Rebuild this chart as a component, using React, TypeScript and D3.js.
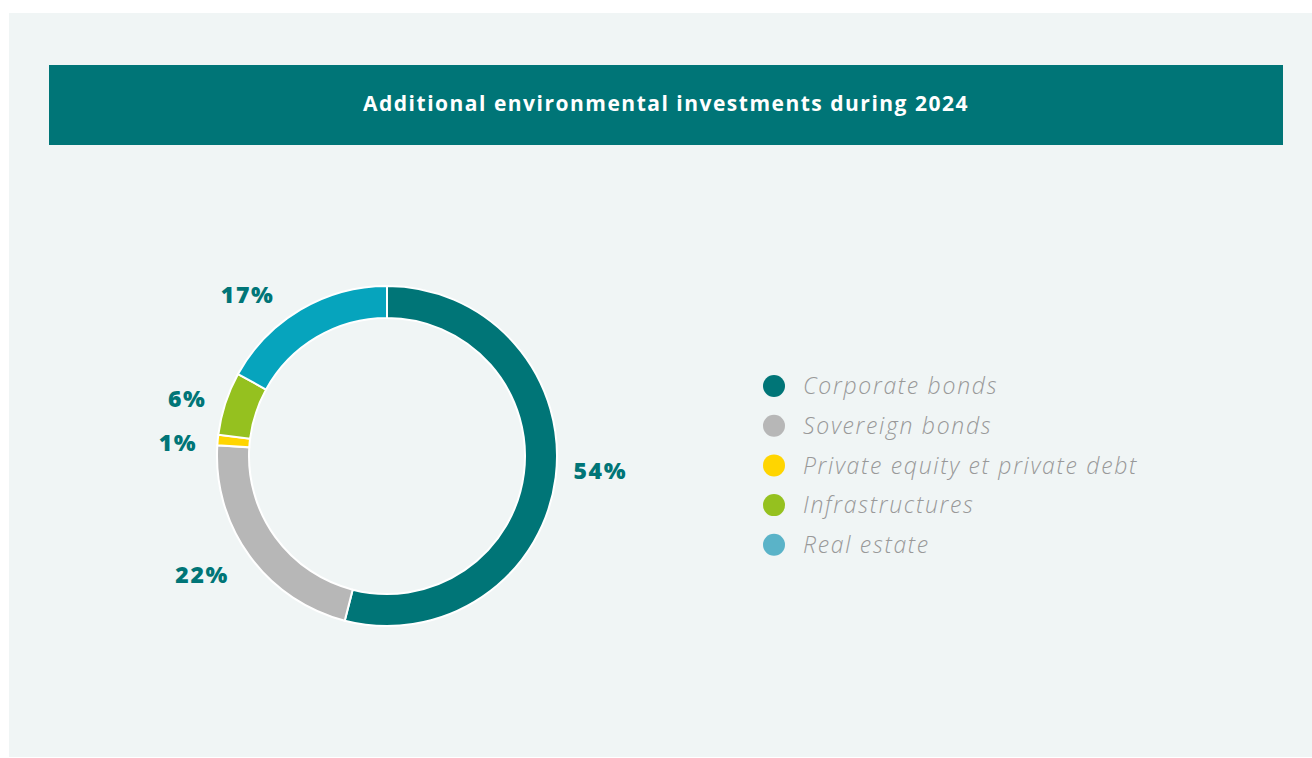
import React from "react";
import * as d3 from "d3";

const categories = ["Corporate bonds", "Sovereign bonds", "Private equity et private debt", "Infrastructures", "Real estate"];
const values = [54, 22, 1, 6, 17];
const sliceColors = ["#007577", "#b7b7b7", "#ffd500", "#95c11f", "#06a4bd"];
const legendColors = ["#007577", "#b7b7b7", "#ffd500", "#95c11f", "#5ab3c8"];
const labelText = ["54%", "22%", "1%", "6%", "17%"];
const title = "Additional environmental investments during 2024";

const W = 1312, H = 758;
const cx = 387, cy = 456, rOuter = 170, rInner = 138;

export default function App() {
  const pie = d3.pie<number>().sort(null).value((d) => d)(values);
  const arc = d3.arc<d3.PieArcDatum<number>>().innerRadius(rInner).outerRadius(rOuter);
  const labelR = [215, 210, 210, 210, 205];
  const labelOffsets: [number, number][] = [[0, -12], [-15, -5], [0, 6], [0, 8], [-35, 15]];
  return (
    <svg width={W} height={H} style={{ position: "absolute", left: 0, top: 0 }}>
      <rect x={0} y={0} width={W} height={H} fill="#ffffff" />
      <rect x={9} y={13} width={W - 9} height={744} fill="#f0f5f5" />
      <rect x={49} y={65} width={1234} height={80} fill="#007577" />
      <text x={666} y={111} textAnchor="middle" fill="#ffffff" fontFamily="'Open Sans', sans-serif" fontWeight={700} fontSize={21} letterSpacing={1.5}>{title}</text>
      <g transform={`translate(${cx},${cy})`}>
        {pie.map((p, i) => (
          <path key={i} d={arc(p) || ""} fill={sliceColors[i]} stroke="#ffffff" strokeWidth={2} />
        ))}
        {pie.map((p, i) => {
          const a = (p.startAngle + p.endAngle) / 2;
          const r = labelR[i];
          const x = Math.sin(a) * r + labelOffsets[i][0];
          const y = -Math.cos(a) * r + labelOffsets[i][1];
          return (
            <text key={i} x={x} y={y} dy="0.36em" textAnchor="middle" fill="#007577" fontFamily="'Open Sans', sans-serif" fontWeight={800} fontSize={23} letterSpacing={1.6}>{labelText[i]}</text>
          );
        })}
      </g>
      {categories.map((c, i) => (
        <g key={c} transform={`translate(774,${386 + i * 39.7})`}>
          <circle r={11} fill={legendColors[i]} />
          <text x={29} dy="0.36em" fill="#999999" fontFamily="'Open Sans', sans-serif" fontStyle="italic" fontWeight={300} fontSize={23} letterSpacing={1.7}>{c}</text>
        </g>
      ))}
    </svg>
  );
}
